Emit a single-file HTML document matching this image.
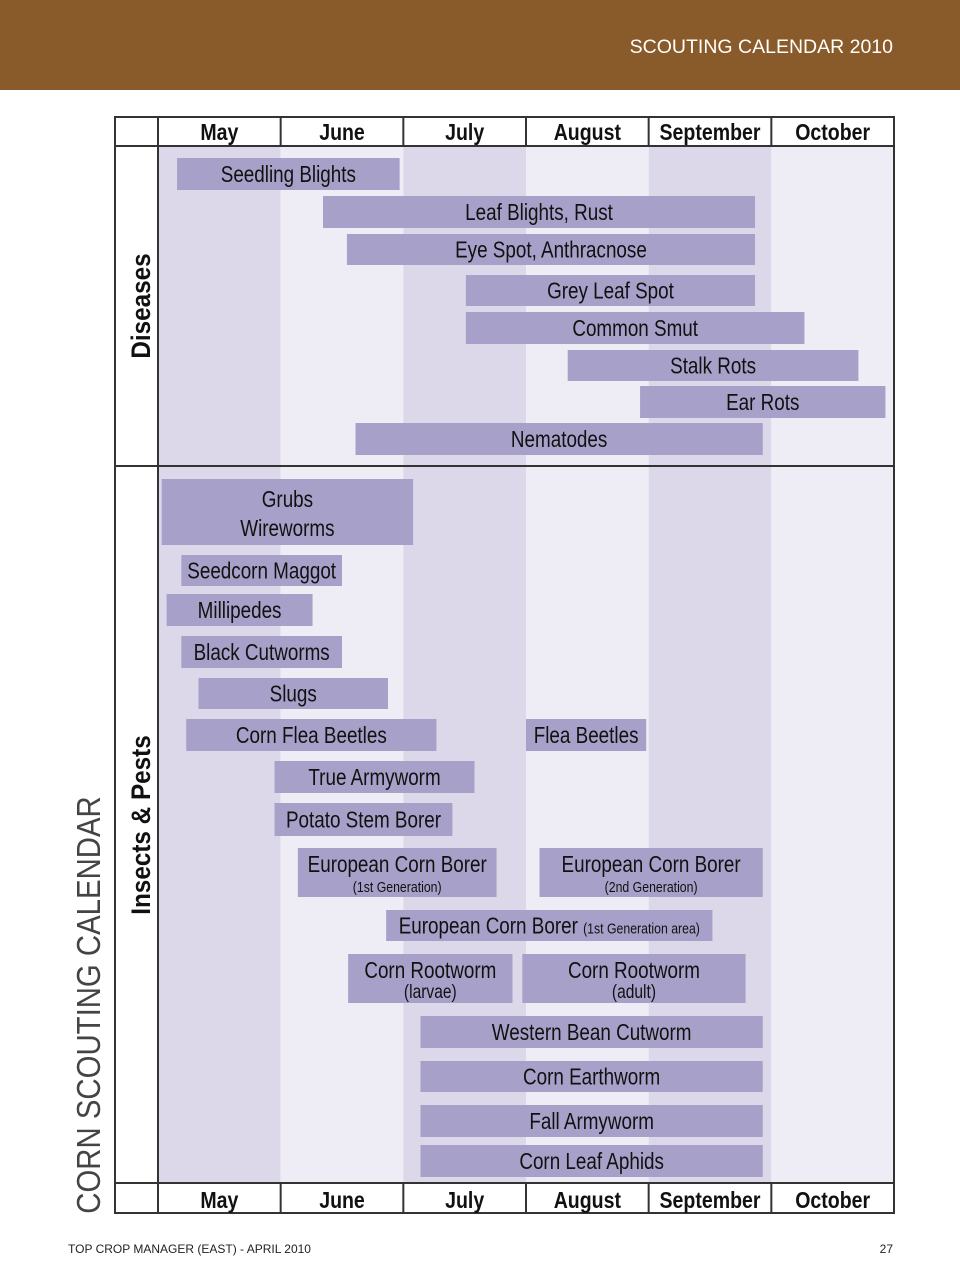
<!DOCTYPE html>
<html><head><meta charset="utf-8"><style>
body{margin:0;background:#fff}
svg{display:block}
text{font-family:"Liberation Sans",sans-serif}
</style></head><body>
<svg id="c" width="960" height="1285" viewBox="0 0 960 1285" xmlns="http://www.w3.org/2000/svg">
<rect x="0" y="0" width="960" height="90" fill="#8a5b2a"/>
<text x="893" y="53" text-anchor="end" fill="#fff" font-size="19.5">SCOUTING CALENDAR 2010</text>
<g id="stripes"></g>
<g id="bars"></g>
<g id="grid"></g>
<text transform="translate(150,306) rotate(-90) scale(0.9,1)" text-anchor="middle" font-size="27" font-weight="bold" fill="#111">Diseases</text>
<text transform="translate(150,825) rotate(-90) scale(0.9,1)" text-anchor="middle" font-size="27" font-weight="bold" fill="#111">Insects &amp; Pests</text>
<text transform="translate(100,1005) rotate(-90) scale(0.89,1)" text-anchor="middle" font-size="33" fill="#444">CORN SCOUTING CALENDAR</text>
<text x="68" y="1253" font-size="12" fill="#222">TOP CROP MANAGER (EAST) - APRIL 2010</text>
<text x="893" y="1253" text-anchor="end" font-size="12" fill="#222">27</text>
</svg>
<script>
const months = ["May","June","July","August","September","October"];
const barLabels = ["Seedling Blights","Leaf Blights, Rust","Eye Spot, Anthracnose","Grey Leaf Spot","Common Smut","Stalk Rots","Ear Rots","Nematodes","Grubs|Wireworms","Seedcorn Maggot","Millipedes","Black Cutworms","Slugs","Corn Flea Beetles","Flea Beetles","True Armyworm","Potato Stem Borer","European Corn Borer|(1st Generation)","European Corn Borer|(2nd Generation)","European Corn Borer~(1st Generation area)","Corn Rootworm|(larvae)","Corn Rootworm|(adult)","Western Bean Cutworm","Corn Earthworm","Fall Armyworm","Corn Leaf Aphids"];
const barStart = [0.155,1.345,1.54,2.51,2.51,3.34,3.93,1.61,0.03,0.19,0.07,0.19,0.33,0.23,3.0,0.95,0.95,1.14,3.11,1.86,1.55,2.97,2.14,2.14,2.14,2.14];
const barEnd = [1.97,4.867,4.867,4.867,5.27,5.71,5.93,4.93,2.08,1.5,1.26,1.5,1.875,2.27,3.98,2.58,2.4,2.76,4.93,4.52,2.89,4.79,4.93,4.93,4.93,4.93];
// layout (row geometry, not data)
const rowTop = [158,196,234,275,312,350,386,423,479,555,594,636,678,719,719,761,803,848,848,910,954,954,1016,1061,1105,1145];
const rowH = [32,32,31,31,32,31,32,32,66,31,32,32,31,32,32,32,33,49,49,31,49,49,32,31,32,32];

const svg = document.getElementById('c');
const NS = "http://www.w3.org/2000/svg";
const X0 = 158, X1 = 894, TOP = 117, BOT = 1213;
const SX = 0.82;
const mw = (X1 - X0) / months.length;
const xs = m => X0 + m * mw;
function mk(tag, attrs, parent){const e=document.createElementNS(NS,tag);for(const k in attrs)e.setAttribute(k,attrs[k]);parent.appendChild(e);return e;}
function txt(parent, cx, y, size, s, sx, bold){
  const t = mk('text',{x:0,y:0,transform:`translate(${cx},${y}) scale(${sx},1)`,'text-anchor':'middle','font-size':size,fill:'#111'},parent);
  if(bold) t.setAttribute('font-weight','bold');
  t.textContent = s; return t;
}

const st = document.getElementById('stripes');
months.forEach((m,i)=>{
  const r = mk('rect',{x:xs(i),y:146,width:mw,height:1183-146,fill:(i%2===0)?'#dcd8ea':'#eeedf5'},st);
  
  
});

const bg = document.getElementById('bars');
barLabels.forEach((lab,i)=>{
  const x1 = xs(barStart[i]), x2 = xs(barEnd[i]);
  const g = mk('g',{},bg);
  
  
  mk('rect',{x:x1,y:rowTop[i],width:x2-x1,height:rowH[i],fill:'#a7a1c9'},g);
  const cx = (x1+x2)/2, cy = rowTop[i]+rowH[i]/2;
  if(lab.includes('~')){
    const [a,b] = lab.split('~');
    const t = txt(g, cx, cy+8, 23, a + ' ', SX);
    const ts = mk('tspan',{'font-size':15},t); ts.textContent = b;
  } else if(lab.includes('|')){
    const [a,b] = lab.split('|');
    const big = (i===8);
    txt(g, cx, rowTop[i]+(big?28:24), 23, a, SX);
    txt(g, cx, rowTop[i]+(big?57:44), big?23:(b.startsWith('(1')||b.startsWith('(2')?15:19), b, SX);
  } else {
    txt(g, cx, cy+8, 23, lab, SX);
  }
});

const gr = document.getElementById('grid');
const L = {fill:'none',stroke:'#333','stroke-width':2};
mk('rect',{x:115,y:TOP,width:X1-115,height:BOT-TOP,...L},gr);
mk('line',{x1:115,y1:146,x2:X1,y2:146,...L},gr);
mk('line',{x1:115,y1:466,x2:X1,y2:466,...L},gr);
mk('line',{x1:115,y1:1183,x2:X1,y2:1183,...L},gr);
mk('line',{x1:158,y1:TOP,x2:158,y2:BOT,...L},gr);
months.forEach((m,i)=>{
  if(i>0){
    mk('line',{x1:xs(i),y1:TOP,x2:xs(i),y2:146,...L},gr);
    mk('line',{x1:xs(i),y1:1183,x2:xs(i),y2:BOT,...L},gr);
  }
  const t = txt(gr, xs(i+0.5), 140, 23, m, 0.85, true);
  
  
  const b = txt(gr, xs(i+0.5), 1208, 23, m, 0.85, true);
  
  
});
</script>
</body></html>
